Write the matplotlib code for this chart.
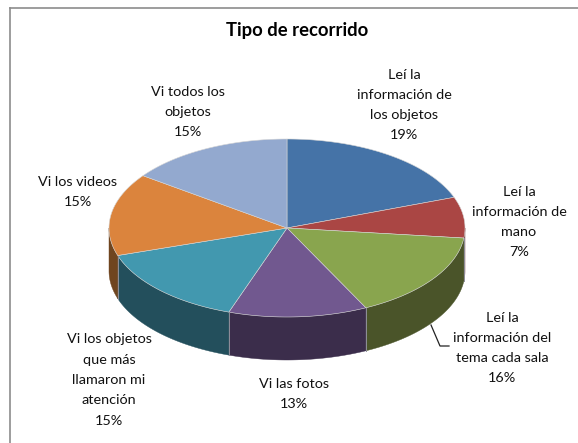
import numpy as np
import matplotlib
matplotlib.use('Agg')
from matplotlib import pyplot as plt
from matplotlib.patches import Polygon

categories = [
    'Leí la\ninformación de\nlos objetos',
    'Leí la\ninformación de\nmano',
    'Leí la\ninformación del\ntema cada sala',
    'Vi las fotos',
    'Vi los objetos\nque más\nllamaron mi\natención',
    'Vi los videos',
    'Vi todos los\nobjetos',
]
shares = [19.4, 7.4, 15.9, 12.6, 14.7, 15.0, 15.0]
top_colors = ['#4573a7', '#aa4644', '#89a54e', '#71588f', '#4298af', '#db843d', '#93a9cf']
side_colors = ['#2a4565', '#6e2d2c', '#4a5429', '#3b2d4b', '#234f5c', '#6f451f', '#5a6a85']
label_pos = [(404, 105), (519, 222), (502, 348), (294, 394), (109, 380), (78, 192), (188, 112)]

cx, cy = 287, 228
rx, ry = 178, 89
depth = 43

plt.rcParams['font.family'] = ['Lato', 'DejaVu Sans']
fig = plt.figure(figsize=(5.78, 4.43), dpi=100)
ax = fig.add_axes([0, 0, 1, 1])
ax.set_xlim(0, 578)
ax.set_ylim(443, 0)
ax.axis('off')

def rim(a, b):
    # angles are clockwise from twelve o'clock, in degrees
    t = np.radians(np.linspace(a, b, 80))
    return np.column_stack([cx + rx*np.sin(t), cy - ry*np.cos(t)])

#chart frame
ax.plot([10, 10], [443, 8], color='#8c8c8c', lw=1.2)
ax.plot([10, 578], [8, 8], color='#8c8c8c', lw=1.2)

edges = np.cumsum([0] + shares)*3.6

#side walls first, only the front half of the rim shows
for i in range(len(shares)):
    a, b = max(edges[i], 90), min(edges[i+1], 270)
    if a >= b:
        continue
    pts = rim(a, b)
    wall = np.vstack([pts, pts[::-1] + [0, depth]])
    ax.add_patch(Polygon(wall, fc=side_colors[i], ec=side_colors[i], lw=0.3))
    if edges[i] >= 90 and i > 0:
        ax.plot([pts[0, 0]]*2, [pts[0, 1], pts[0, 1]+depth], color='#8f8f9a', lw=0.7)

#top face
for i in range(len(shares)):
    pts = np.vstack([[cx, cy], rim(edges[i], edges[i+1])])
    ax.add_patch(Polygon(pts, fc=top_colors[i], ec='#d5d5d5', lw=0.4))

#labels
for name, share, (x, y) in zip(categories, shares, label_pos):
    ax.text(x, y, f'{name}\n{share:.0f}%', ha='center', va='center', fontsize=10.4,
            color='#111111', linespacing=1.83)

ax.plot([431, 440, 449], [325, 346, 346], color='#222222', lw=0.9)
ax.text(297, 30, 'Tipo de recorrido', ha='center', va='center', fontsize=13.3,
        fontweight='bold', color='black')

fig.savefig('out.png', dpi=100)
